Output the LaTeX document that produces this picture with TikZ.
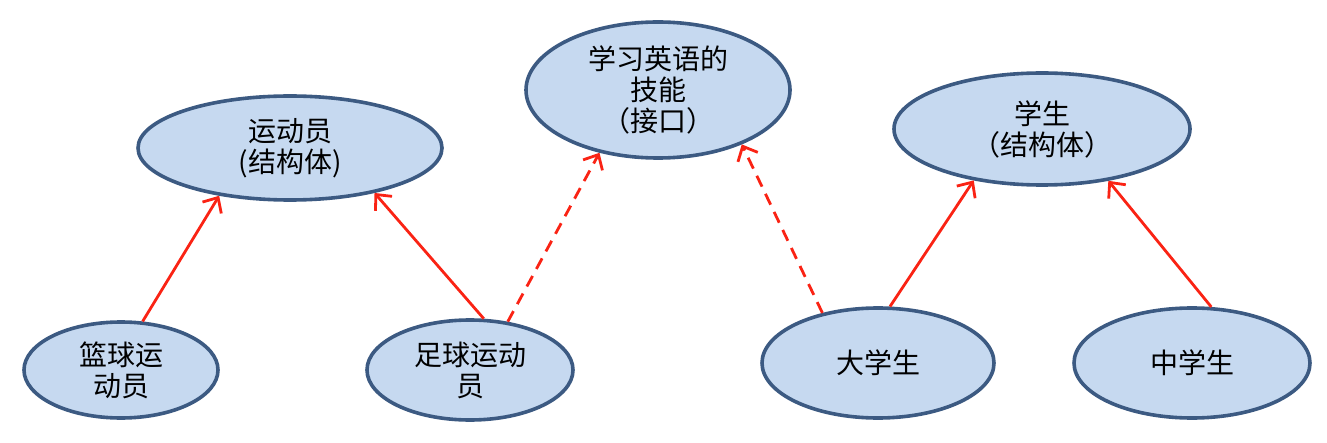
\documentclass[tikz,border=0pt]{standalone}
\usepackage{fontspec}
\setmainfont{Noto Sans CJK SC}
\usetikzlibrary{arrows.meta,shapes.geometric}

\definecolor{ovalfill}{RGB}{198,217,240}
\definecolor{ovalline}{RGB}{60,90,130}
\definecolor{linkred}{RGB}{250,35,20}

\tikzset{
  oval/.style={ellipse,draw=ovalline,fill=ovalfill,line width=1.8pt,
    inner sep=0pt,align=center,font=\fontsize{14pt}{15.5pt}\selectfont},
  inherit/.style={linkred,line width=1.4pt,-{Straight Barb[length=6pt,width=11pt,line width=1.4pt]}},
  realize/.style={inherit,dash pattern=on 6pt off 4pt}
}

\begin{document}
\begin{tikzpicture}[x=0.5pt,y=-0.5pt]
    \useasboundingbox (0,0) rectangle (1327,443);
    % base types
    \node[oval,minimum width=152pt,minimum height=52pt] (athlete) at (290,148)
      {运动员\\(结构体)};
    \node[oval,minimum width=132pt,minimum height=68pt] (skill) at (658,90)
      {学习英语的\\技能\\（接口）};
    \node[oval,minimum width=148pt,minimum height=56pt] (student) at (1042,129)
      {学生\\（结构体）};
    % derived types
    \node[oval,minimum width=97pt,minimum height=48pt] (basket) at (121,370)
      {篮球运\\动员};
    \node[oval,minimum width=103pt,minimum height=50pt] (soccer) at (470,370)
      {足球运动\\员};
    \node[oval,minimum width=116pt,minimum height=55pt] (college) at (878,363)
      {大学生};
    \node[oval,minimum width=118pt,minimum height=55pt] (middle) at (1192,363)
      {中学生};
    % links
    \draw[inherit] (basket.66) -- (athlete.-146);
    \draw[inherit] (soccer.75) -- (athlete.-28);
    \draw[realize] (soccer.52) -- (skill.-133);
    \draw[realize] (college.138) -- (skill.-33);
    \draw[inherit] (college.78) -- (student.-143);
    \draw[inherit] (middle.71) -- (student.-38);
\end{tikzpicture}
\end{document}
